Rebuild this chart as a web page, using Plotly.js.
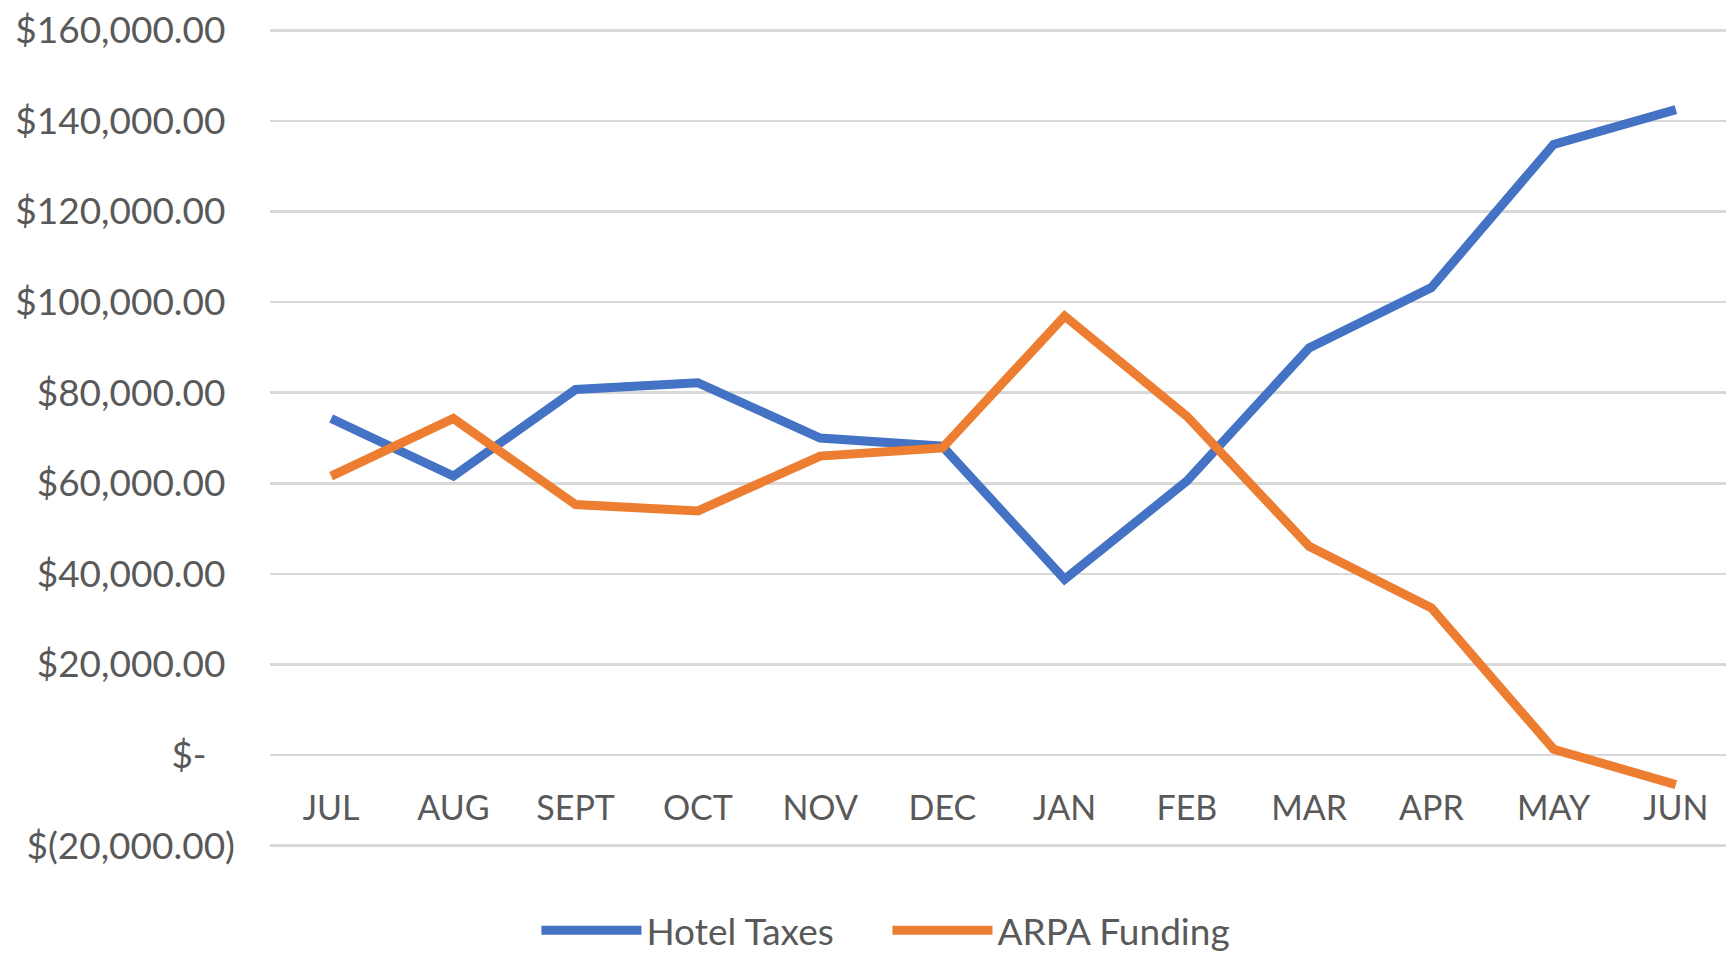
<!DOCTYPE html>
<html>
<head>
<meta charset="utf-8">
<script src="https://cdn.plot.ly/plotly-3.0.1.min.js"></script>
<style>
  html, body { margin: 0; padding: 0; background: #ffffff; }
  #gd { width: 1726px; height: 955px; }
</style>
</head>
<body>
<div id="gd"></div>
<script>
// fiscal year months, as printed on the axis
var months = ["JUL", "AUG", "SEPT", "OCT", "NOV", "DEC", "JAN", "FEB", "MAR", "APR", "MAY", "JUN"];

// values (dollars)
var hotelTaxes = [74300, 61600, 80700, 82200, 70000, 68200, 38800, 60500, 89900, 103200, 134800, 142500];
var arpaFunding = [61600, 74300, 55300, 53900, 66000, 67800, 96900, 74800, 46100, 32500, 1300, -6500];

// y axis ticks, accounting style labels
var yTickVals = [-20000, 0, 20000, 40000, 60000, 80000, 100000, 120000, 140000, 160000];
var yTickText = ["$(20,000.00)", "$-\u00A0\u00A0\u00A0", "$20,000.00\u00A0", "$40,000.00\u00A0",
  "$60,000.00\u00A0", "$80,000.00\u00A0", "$100,000.00\u00A0", "$120,000.00\u00A0",
  "$140,000.00\u00A0", "$160,000.00\u00A0"];

var textColor = "#595959";
var gridColor = "#d9d9d9";
var fontFamily = "Lato, 'Open Sans', sans-serif";

var traces = [
  {
    type: "scatter",
    mode: "lines",
    name: "Hotel Taxes",
    x: months,
    y: hotelTaxes,
    line: { color: "#4472c4", width: 9 }
  },
  {
    type: "scatter",
    mode: "lines",
    name: "ARPA Funding",
    x: months,
    y: arpaFunding,
    line: { color: "#ed7d31", width: 9 }
  }
];

var layout = {
  width: 1726,
  height: 955,
  paper_bgcolor: "#ffffff",
  plot_bgcolor: "#ffffff",
  margin: { l: 270, r: 0, t: 28, b: 107, autoexpand: false },
  font: { family: fontFamily, size: 34, color: textColor },
  showlegend: true,
  legend: {
    orientation: "h",
    x: 0.183,
    xanchor: "left",
    y: -0.101,
    yanchor: "middle",
    font: { family: fontFamily, size: 37, color: textColor },
    itemwidth: 100,
    entrywidth: 236,
    entrywidthmode: "pixels",
    tracegroupgap: 0
  },
  xaxis: {
    type: "category",
    range: [-0.5, 11.41],
    showgrid: false,
    zeroline: false,
    showline: false,
    ticks: "",
    ticklabelstandoff: -63,
    tickfont: { family: fontFamily, size: 34, color: textColor },
    fixedrange: true
  },
  yaxis: {
    range: [-20500, 160500],
    tickmode: "array",
    tickvals: yTickVals,
    ticktext: yTickText,
    showgrid: true,
    gridcolor: gridColor,
    gridwidth: 2.5,
    zeroline: false,
    showline: false,
    ticks: "",
    ticklabelstandoff: 34,
    tickfont: { family: fontFamily, size: 37, color: textColor },
    fixedrange: true
  }
};

var config = {
  displayModeBar: false,
  staticPlot: true
};

Plotly.newPlot("gd", traces, layout, config);
</script>
</body>
</html>
